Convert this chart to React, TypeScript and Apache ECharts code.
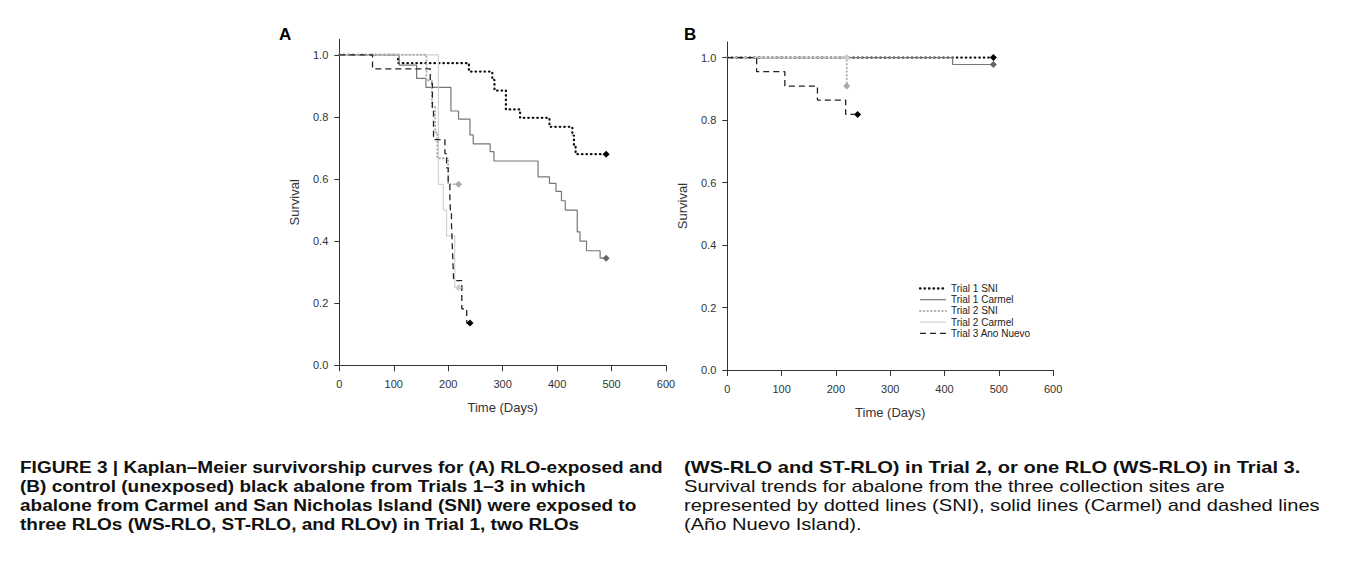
import React, { useEffect, useRef } from "react";
import * as echarts from "echarts";

const FONT = "'Liberation Sans', Arial, Helvetica, sans-serif";

// ---- axes ----
const xTicks = [0, 100, 200, 300, 400, 500, 600];
const yTicks = [0, 0.2, 0.4, 0.6, 0.8, 1.0];

// ---- series names (legend order) ----
const seriesNames = ["Trial 1 SNI", "Trial 1 Carmel", "Trial 2 SNI", "Trial 2 Carmel", "Trial 3 Ano Nuevo"];

// ---- Panel A: RLO-exposed ----
const aT1SniDays = [0, 108, 238, 281, 285, 306, 332, 386, 428, 431, 434, 490];
const aT1SniSurv = [1, 0.973, 0.946, 0.919, 0.885, 0.824, 0.797, 0.768, 0.74, 0.71, 0.68, 0.68];

const aT1CarDays = [0, 110, 142, 159, 205, 219, 240, 246, 277, 284, 365, 386, 398, 408, 415, 437, 442, 454, 479, 490];
const aT1CarSurv = [1, 0.967, 0.924, 0.895, 0.819, 0.793, 0.742, 0.713, 0.688, 0.658, 0.607, 0.586, 0.56, 0.53, 0.5, 0.43, 0.4, 0.369, 0.345, 0.345];

const aT2SniDays = [0, 160, 170, 176, 180, 200, 219];
const aT2SniSurv = [1, 0.917, 0.833, 0.75, 0.667, 0.583, 0.583];

const aT2CarDays = [0, 182, 191, 197, 212, 219];
const aT2CarSurv = [1, 0.583, 0.5, 0.417, 0.25, 0.25];

const aT3Days = [0, 61, 167, 171, 173, 194, 197, 200, 203, 204, 206, 207, 208, 209, 210, 225, 234, 240];
const aT3Surv = [1, 0.955, 0.909, 0.818, 0.727, 0.682, 0.636, 0.591, 0.545, 0.5, 0.455, 0.409, 0.364, 0.318, 0.273, 0.182, 0.136, 0.136];

// ---- Panel B: controls ----
const bT1SniDays = [0, 490];
const bT1SniSurv = [1, 1];

const bT1CarDays = [0, 415, 490];
const bT1CarSurv = [1, 0.978, 0.978];

const bT2SniDays = [0, 220];
const bT2SniSurv = [1, 0.909];

const bT2CarDays = [0, 220];
const bT2CarSurv = [1, 1];

const bT3Days = [0, 54, 106, 166, 218, 240];
const bT3Surv = [1, 0.955, 0.909, 0.864, 0.818, 0.818];

// ---- caption ----
const captionCol1 = [
  "FIGURE 3 | Kaplan–Meier survivorship curves for (A) RLO-exposed and",
  "(B) control (unexposed) black abalone from Trials 1–3 in which",
  "abalone from Carmel and San Nicholas Island (SNI) were exposed to",
  "three RLOs (WS-RLO, ST-RLO, and RLOv) in Trial 1, two RLOs",
];
const captionCol2 = [
  "(WS-RLO and ST-RLO) in Trial 2, or one RLO (WS-RLO) in Trial 3.",
  "Survival trends for abalone from the three collection sites are",
  "represented by dotted lines (SNI), solid lines (Carmel) and dashed lines",
  "(Año Nuevo Island).",
];

// styles (kept apart from data)
const STYLE: Record<string, any> = {
  "Trial 1 SNI": { color: "#111", width: 2.3, type: [0.5, 4], cap: "round", mark: "#000" },
  "Trial 1 Carmel": { color: "#777", width: 1.2, type: "solid", cap: "butt", mark: "#666" },
  "Trial 2 SNI": { color: "#b0b0b0", width: 2, type: [0.5, 3.2], cap: "round", mark: "#aaa" },
  "Trial 2 Carmel": { color: "#d2d2d2", width: 1.2, type: "solid", cap: "butt", mark: "#ccc" },
  "Trial 3 Ano Nuevo": { color: "#222", width: 1.3, type: [6, 4], cap: "butt", mark: "#000" },
};

const DRAW_ORDER = ["Trial 1 SNI", "Trial 1 Carmel", "Trial 2 Carmel", "Trial 2 SNI", "Trial 3 Ano Nuevo"];

const PANEL_A: Record<string, [number[], number[]]> = {
  "Trial 1 SNI": [aT1SniDays, aT1SniSurv],
  "Trial 1 Carmel": [aT1CarDays, aT1CarSurv],
  "Trial 2 SNI": [aT2SniDays, aT2SniSurv],
  "Trial 2 Carmel": [aT2CarDays, aT2CarSurv],
  "Trial 3 Ano Nuevo": [aT3Days, aT3Surv],
};
const PANEL_B: Record<string, [number[], number[]]> = {
  "Trial 1 SNI": [bT1SniDays, bT1SniSurv],
  "Trial 1 Carmel": [bT1CarDays, bT1CarSurv],
  "Trial 2 SNI": [bT2SniDays, bT2SniSurv],
  "Trial 2 Carmel": [bT2CarDays, bT2CarSurv],
  "Trial 3 Ano Nuevo": [bT3Days, bT3Surv],
};

function buildSeries(panel: Record<string, [number[], number[]]>, idx: number) {
  return DRAW_ORDER.map((name) => {
    const [days, surv] = panel[name];
    const st = STYLE[name];
    const data = days.map((d, i) =>
      i === days.length - 1
        ? { value: [d, surv[i]], symbol: "diamond", symbolSize: 7, itemStyle: { color: st.mark } }
        : { value: [d, surv[i]] }
    );
    return {
      type: "line",
      name,
      xAxisIndex: idx,
      yAxisIndex: idx,
      step: "end",
      symbol: "none",
      showSymbol: true,
      showAllSymbol: true,
      data,
      lineStyle: { color: st.color, width: st.width, type: st.type, cap: st.cap },
      itemStyle: { color: st.mark },
      emphasis: { disabled: true },
      silent: true,
    };
  });
}

function xAxis(gridIndex: number) {
  return {
    type: "value",
    gridIndex,
    min: 0,
    max: 600,
    interval: 100,
    axisLine: { show: true, onZero: false, lineStyle: { color: "#333", width: 1 } },
    axisTick: { show: true, length: 6, customValues: xTicks, lineStyle: { color: "#333" } },
    axisLabel: { customValues: xTicks, color: "#333", fontSize: 11, fontFamily: FONT, margin: 13 },
    splitLine: { show: false },
    name: "Time (Days)",
    nameLocation: "middle",
    nameGap: 36,
    nameTextStyle: { color: "#333", fontSize: 13, fontFamily: FONT },
  };
}

function yAxis(gridIndex: number) {
  return {
    type: "value",
    gridIndex,
    min: 0,
    max: 1.05,
    interval: 0.2,
    axisLine: { show: true, onZero: false, lineStyle: { color: "#333", width: 1 } },
    axisTick: { show: true, length: 5, customValues: yTicks, lineStyle: { color: "#333" } },
    axisLabel: {
      customValues: yTicks,
      formatter: (v: number) => v.toFixed(1),
      color: "#333",
      fontSize: 11,
      fontFamily: FONT,
      margin: 11,
    },
    splitLine: { show: false },
    name: "Survival",
    nameLocation: "middle",
    nameGap: 38,
    nameTextStyle: { color: "#333", fontSize: 13, fontFamily: FONT },
  };
}

function legendGraphic(x: number, y0: number, step: number) {
  const els: any[] = [];
  seriesNames.forEach((name, i) => {
    const st = STYLE[name];
    const y = y0 + i * step;
    els.push({
      type: "line",
      shape: { x1: x, y1: y, x2: x + 26, y2: y },
      style: {
        stroke: st.color,
        lineWidth: st.width,
        lineDash: st.type === "solid" ? null : st.type,
        lineCap: st.cap,
      },
      silent: true,
    });
    els.push({
      type: "text",
      x: x + 31,
      y,
      style: { text: name, fill: "#222", fontSize: 10, fontFamily: FONT, verticalAlign: "middle", align: "left" },
      silent: true,
    });
  });
  return els;
}

function captionGraphic() {
  const canvas = document.createElement("canvas");
  const ctx = canvas.getContext("2d") as CanvasRenderingContext2D;
  const size = 17;
  const lineYs = [467, 486, 505, 524];
  const cols = [
    { lines: captionCol1, x0: 20, refLine: 0, refEnd: 663, bold: [true, true, true, true] },
    { lines: captionCol2, x0: 684, refLine: 2, refEnd: 1320, bold: [true, false, false, false] },
  ];
  const measure = (t: string, bold: boolean) => {
    ctx.font = `${bold ? "bold " : ""}${size}px ${FONT}`;
    return ctx.measureText(t).width;
  };
  const els: any[] = [];
  cols.forEach((c) => {
    const refW = measure(c.lines[c.refLine], c.bold[c.refLine]);
    const sx = Math.max(0.75, Math.min(1.25, (c.refEnd - c.x0) / refW));
    c.lines.forEach((ln, i) => {
      els.push({
        type: "text",
        x: c.x0,
        y: lineYs[i],
        scaleX: sx,
        style: {
          text: ln,
          fill: "#111",
          fontSize: size,
          fontWeight: c.bold[i] ? "bold" : "normal",
          fontFamily: FONT,
          verticalAlign: "middle",
          align: "left",
        },
        silent: true,
      });
    });
  });
  return els;
}

export default function App() {
  const ref = useRef<HTMLDivElement>(null);
  useEffect(() => {
    if (!ref.current) return;
    const chart = echarts.init(ref.current, undefined, { renderer: "svg" });
    const option: any = {
      animation: false,
      backgroundColor: "#ffffff",
      grid: [
        { left: 339.3, top: 39.3, width: 326.7, height: 326, containLabel: false },
        { left: 727.3, top: 42, width: 325.8, height: 328, containLabel: false },
      ],
      xAxis: [xAxis(0), xAxis(1)],
      yAxis: [yAxis(0), yAxis(1)],
      series: [...buildSeries(PANEL_A, 0), ...buildSeries(PANEL_B, 1)],
      graphic: [
        {
          type: "text",
          x: 279,
          y: 26,
          style: { text: "A", fill: "#000", fontSize: 17, fontWeight: "bold", fontFamily: FONT },
          silent: true,
        },
        {
          type: "text",
          x: 684,
          y: 26,
          style: { text: "B", fill: "#000", fontSize: 17, fontWeight: "bold", fontFamily: FONT },
          silent: true,
        },
        ...legendGraphic(920, 288.5, 11.2),
        ...captionGraphic(),
      ],
    };
    chart.setOption(option);
    return () => chart.dispose();
  }, []);
  return (
    <div
      ref={ref}
      style={{ position: "absolute", left: 0, top: 0, width: 1349, height: 569, background: "#fff" }}
    />
  );
}
